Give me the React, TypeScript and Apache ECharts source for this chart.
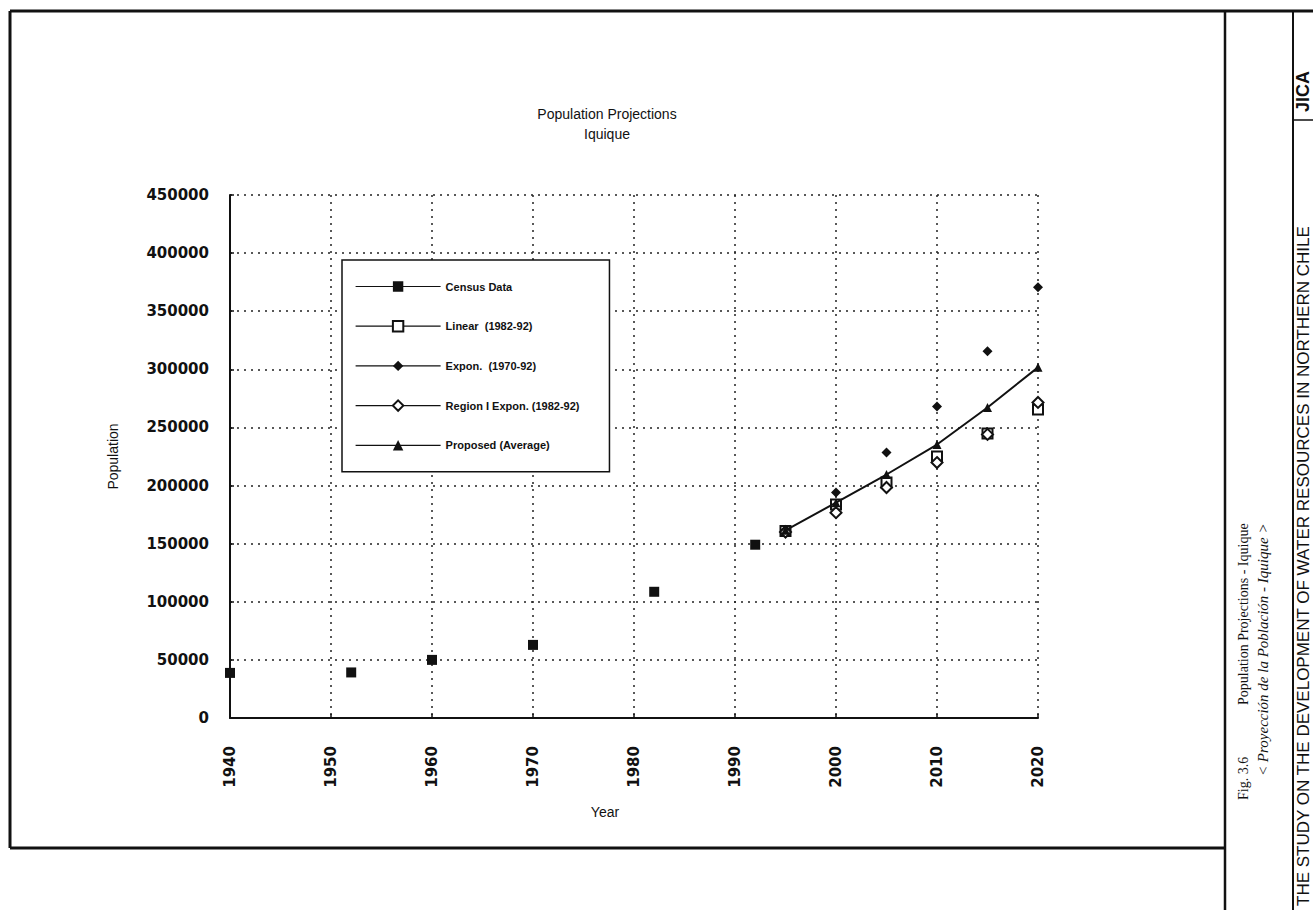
import React, { useEffect, useRef } from "react";
import * as echarts from "echarts";

// ---- data ----
const censusYears = [1940, 1952, 1960, 1970, 1982, 1992];
const censusPop = [38800, 39200, 50000, 62900, 108600, 149100];

const projYears = [1995, 2000, 2005, 2010, 2015, 2020];
const linearPop = [161000, 183600, 202600, 225000, 244800, 265500];
const exponPop = [162000, 194000, 228400, 268100, 315500, 370700];
const regionPop = [160000, 176700, 198300, 219800, 244000, 271500];
const proposedPop = [161500, 185300, 209500, 235300, 267200, 301700];

const seriesNames = [
  "Census Data",
  "Linear  (1982-92)",
  "Expon.  (1970-92)",
  "Region I Expon. (1982-92)",
  "Proposed (Average)",
];

const xTicks = { min: 1940, max: 2020, interval: 10 };
const yTicks = { min: 0, max: 450000, interval: 50000 };

const pairs = (xs: number[], ys: number[]) => xs.map((x, i) => [x, ys[i]]);

export default function App() {
  const ref = useRef<HTMLDivElement>(null);

  useEffect(() => {
    if (!ref.current) return;
    const chart = echarts.init(ref.current, undefined, { renderer: "svg" });
    const sans = "Liberation Sans, Arial, sans-serif";
    const serif = "Liberation Serif, Times New Roman, serif";
    const tickFont = "DejaVu Sans, sans-serif";

    const hidden = { width: 0, opacity: 0 };

    chart.setOption({
      animation: false,
      backgroundColor: "#ffffff",
      title: {
        text: "Population Projections\nIquique",
        left: 602,
        top: 99,
        textAlign: "center",
        textStyle: {
          fontFamily: sans,
          fontSize: 14,
          fontWeight: "normal",
          color: "#111",
          lineHeight: 20,
        },
      },
      legend: {
        orient: "vertical",
        left: 342,
        top: 260,
        padding: [21, 30, 21, 13],
        itemWidth: 85,
        itemHeight: 13,
        itemGap: 28,
        borderColor: "#111",
        borderWidth: 1.5,
        borderRadius: 0,
        backgroundColor: "#fff",
        data: seriesNames,
        lineStyle: { width: 1.2, color: "#111", opacity: 1, type: "solid" },
        textStyle: { fontFamily: sans, fontSize: 11, color: "#111", fontWeight: "bold" },
        selectedMode: false,
      },
      grid: { left: 230, top: 195, width: 808, height: 523 },
      xAxis: {
        type: "value",
        min: xTicks.min,
        max: xTicks.max,
        interval: xTicks.interval,
        axisLine: { show: true, onZero: false, lineStyle: { color: "#111", width: 2 } },
        axisTick: { show: true, inside: true, length: 4, lineStyle: { color: "#111", width: 1.5 } },
        axisLabel: {
          rotate: 90,
          margin: 28,
          fontFamily: tickFont,
          fontSize: 15,
          fontWeight: "bold",
          color: "#111",
          formatter: (v: number) => String(v),
        },
        splitLine: { show: true, lineStyle: { color: "#222", width: 1.5, type: [2, 5] } },
      },
      yAxis: {
        type: "value",
        min: yTicks.min,
        max: yTicks.max,
        interval: yTicks.interval,
        name: "Population",
        nameLocation: "middle",
        nameGap: 110,
        nameRotate: 90,
        nameTextStyle: { fontFamily: sans, fontSize: 14, color: "#111" },
        axisLine: { show: true, onZero: false, lineStyle: { color: "#111", width: 2 } },
        axisTick: { show: true, inside: true, length: 4, lineStyle: { color: "#111", width: 1.5 } },
        axisLabel: {
          margin: 21,
          fontFamily: tickFont,
          fontSize: 15,
          fontWeight: "bold",
          color: "#111",
          formatter: (v: number) => String(v),
        },
        splitLine: { show: true, lineStyle: { color: "#222", width: 1.5, type: [2, 5] } },
      },
      series: [
        {
          name: seriesNames[0],
          type: "line",
          data: pairs(censusYears, censusPop),
          symbol: "rect",
          symbolSize: 10,
          itemStyle: { color: "#111" },
          lineStyle: hidden,
          z: 3,
        },
        {
          name: seriesNames[1],
          type: "line",
          data: pairs(projYears, linearPop),
          symbol: "emptyRect",
          symbolSize: 10,
          itemStyle: { color: "#111", borderWidth: 1.5 },
          lineStyle: hidden,
          z: 3,
        },
        {
          name: seriesNames[2],
          type: "line",
          data: pairs(projYears, exponPop),
          symbol: "diamond",
          symbolSize: 10,
          itemStyle: { color: "#111" },
          lineStyle: hidden,
          z: 3,
        },
        {
          name: seriesNames[3],
          type: "line",
          data: pairs(projYears, regionPop),
          symbol: "emptyDiamond",
          symbolSize: 11,
          itemStyle: { color: "#111", borderWidth: 1.5 },
          lineStyle: hidden,
          z: 3,
        },
        {
          name: seriesNames[4],
          type: "line",
          data: pairs(projYears, proposedPop),
          symbol: "triangle",
          symbolSize: 9,
          itemStyle: { color: "#111" },
          lineStyle: { color: "#111", width: 2 },
          z: 4,
        },
      ],
      graphic: [
        { type: "line", shape: { x1: 10, y1: 11, x2: 1313, y2: 11 }, style: { stroke: "#111", lineWidth: 3 } },
        { type: "line", shape: { x1: 10, y1: 11, x2: 10, y2: 848 }, style: { stroke: "#111", lineWidth: 3 } },
        { type: "line", shape: { x1: 10, y1: 848, x2: 1225, y2: 848 }, style: { stroke: "#111", lineWidth: 3 } },
        { type: "line", shape: { x1: 1225, y1: 11, x2: 1225, y2: 910 }, style: { stroke: "#111", lineWidth: 2.5 } },
        { type: "line", shape: { x1: 1293, y1: 11, x2: 1293, y2: 910 }, style: { stroke: "#111", lineWidth: 2 } },
        { type: "line", shape: { x1: 1293, y1: 120, x2: 1313, y2: 120 }, style: { stroke: "#111", lineWidth: 1.5 } },
        {
          type: "text",
          x: 605,
          y: 812,
          style: { text: "Year", font: `14px ${sans}`, fill: "#111", align: "center", verticalAlign: "middle" },
        },
        {
          type: "text",
          x: 1243,
          y: 800,
          rotation: Math.PI / 2,
          style: { text: "Fig. 3.6", font: `14px ${serif}`, fill: "#111", align: "left", verticalAlign: "middle" },
        },
        {
          type: "text",
          x: 1243,
          y: 705,
          rotation: Math.PI / 2,
          style: {
            text: "Population Projections - Iquique",
            font: `14px ${serif}`,
            fill: "#111",
            align: "left",
            verticalAlign: "middle",
          },
        },
        {
          type: "text",
          x: 1263,
          y: 776,
          rotation: Math.PI / 2,
          style: {
            text: "< Proyección de la Población - Iquique >",
            font: `italic 15px ${serif}`,
            fill: "#111",
            align: "left",
            verticalAlign: "middle",
          },
        },
        {
          type: "text",
          x: 1303,
          y: 112,
          rotation: Math.PI / 2,
          style: {
            text: "JICA",
            font: `bold 18px ${sans}`,
            lineHeight: 18,
            fill: "#111",
            align: "left",
            verticalAlign: "middle",
          },
        },
        {
          type: "text",
          x: 1303,
          y: 906,
          rotation: Math.PI / 2,
          style: {
            text: "THE STUDY ON THE DEVELOPMENT OF WATER RESOURCES IN NORTHERN CHILE",
            font: `17px ${sans}`,
            lineHeight: 17,
            fill: "#111",
            align: "left",
            verticalAlign: "middle",
          },
        },
      ],
    });

    return () => {
      chart.dispose();
    };
  }, []);

  return (
    <div
      ref={ref}
      style={{ position: "absolute", left: 0, top: 0, width: 1313, height: 910, background: "#fff" }}
    />
  );
}
